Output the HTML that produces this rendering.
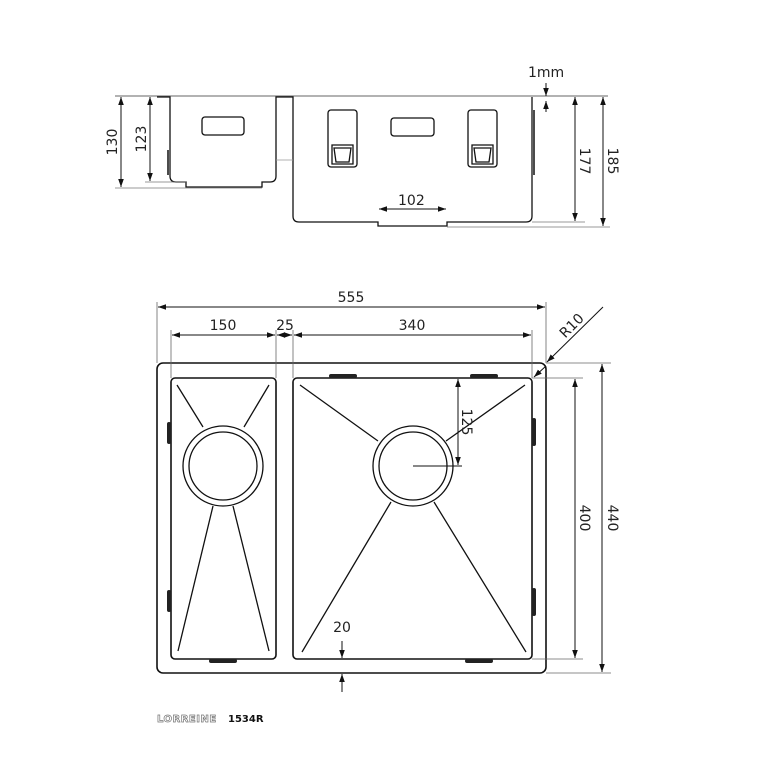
<!DOCTYPE html>
<html><head><style>body{margin:0;background:#fff}svg{display:block}text{font-family:"DejaVu Sans","Liberation Sans",sans-serif;font-size:14px;fill:#222}</style></head><body>
<svg width="763" height="768" viewBox="0 0 763 768" xmlns="http://www.w3.org/2000/svg">
<defs>
<marker id="a" viewBox="0 0 10 10" refX="10" refY="5" markerWidth="8" markerHeight="8" orient="auto-start-reverse" markerUnits="userSpaceOnUse"><path d="M0,1.5L10,5L0,8.5z" fill="#111"/></marker>
</defs>
<g fill="none" stroke="#111" stroke-width="1.3">
<!-- TOP VIEW -->
<line x1="115" y1="96" x2="608" y2="96" stroke="#666" stroke-width="1"/>
<path d="M157,97H170V176Q170,182 176,182H186V187H262V182H270Q276,182 276,176V97H293V216Q293,222 299,222H378V226H447V222H526Q532,222 532,216V97"/>
<line x1="276" y1="160" x2="293" y2="160" stroke="#999" stroke-width="0.8"/>
<line x1="168" y1="150" x2="168" y2="175" stroke-width="1.5"/>
<line x1="534" y1="110" x2="534" y2="175" stroke-width="1.5"/>
<rect x="202" y="117" width="42" height="18" rx="3"/>
<rect x="391" y="118" width="43" height="18" rx="3"/>
<rect x="328" y="110" width="29" height="57" rx="3"/>
<path d="M332,145H353V164H332Z M334,148H351L349,162H336Z"/>
<rect x="468" y="110" width="29" height="57" rx="3"/>
<path d="M472,145H493V164H472Z M474,148H491L489,162H476Z"/>
<g stroke="#777" stroke-width="0.8">
<line x1="115" y1="188" x2="262" y2="188"/><line x1="145" y1="182" x2="186" y2="182"/>
<line x1="532" y1="222" x2="585" y2="222"/><line x1="447" y1="227" x2="610" y2="227"/>
</g>
<g stroke-width="1" marker-start="url(#a)" marker-end="url(#a)">
<line x1="121" y1="97" x2="121" y2="187"/>
<line x1="150" y1="97" x2="150" y2="181"/>
<line x1="575" y1="97" x2="575" y2="221"/>
<line x1="603" y1="97" x2="603" y2="226"/>
<line x1="379" y1="209" x2="446" y2="209"/>
</g>
<line x1="546" y1="83" x2="546" y2="96" stroke-width="1" marker-end="url(#a)"/>
<line x1="546" y1="112" x2="546" y2="101" stroke-width="1" marker-end="url(#a)"/>
<!-- PLAN VIEW -->
<rect x="157" y="363" width="389" height="310" rx="6" stroke-width="1.6"/>
<rect x="171" y="378" width="105" height="281" rx="4" stroke-width="1.6"/>
<rect x="293" y="378" width="239" height="281" rx="4" stroke-width="1.6"/>
<circle cx="223" cy="466" r="40"/><circle cx="223" cy="466" r="34"/>
<circle cx="413" cy="466" r="40"/><circle cx="413" cy="466" r="34"/>
<path d="M177,385L203,427M269,385L244,427M213,506L178,651M233,506L269,651"/>
<path d="M300,385L378,441M525,385L446,441M391,502L302,652M434,502L526,652"/>
<g fill="#222" stroke="none">
<rect x="329" y="374" width="28" height="4" rx="2"/><rect x="470" y="374" width="28" height="4" rx="2"/>
<rect x="209" y="659" width="28" height="4" rx="2"/><rect x="465" y="659" width="28" height="4" rx="2"/>
<rect x="167" y="422" width="4" height="22" rx="2"/><rect x="167" y="590" width="4" height="22" rx="2"/>
<rect x="532" y="418" width="4" height="28" rx="2"/><rect x="532" y="588" width="4" height="28" rx="2"/>
</g>
<g stroke="#666" stroke-width="0.8">
<line x1="157" y1="302" x2="157" y2="363"/><line x1="546" y1="302" x2="546" y2="363"/>
<line x1="171" y1="330" x2="171" y2="378"/><line x1="276" y1="330" x2="276" y2="378"/>
<line x1="293" y1="330" x2="293" y2="378"/><line x1="532" y1="330" x2="532" y2="378"/>
<line x1="546" y1="363" x2="611" y2="363"/><line x1="532" y1="378" x2="583" y2="378"/>
<line x1="532" y1="659" x2="583" y2="659"/><line x1="546" y1="673" x2="611" y2="673"/>
</g>
<g stroke-width="1" marker-start="url(#a)" marker-end="url(#a)">
<line x1="158" y1="307" x2="545" y2="307"/>
<line x1="172" y1="335" x2="275" y2="335"/>
<line x1="277" y1="335" x2="292" y2="335"/>
<line x1="294" y1="335" x2="531" y2="335"/>
<line x1="575" y1="379" x2="575" y2="658"/>
<line x1="602" y1="364" x2="602" y2="672"/>
<line x1="458" y1="379" x2="458" y2="465"/>
</g>
<line x1="413" y1="466" x2="462" y2="466" stroke-width="1"/>
<line x1="603" y1="307" x2="547" y2="362" stroke-width="1" marker-end="url(#a)"/>
<line x1="546" y1="366" x2="534" y2="377" stroke-width="1" marker-end="url(#a)"/>
<line x1="342" y1="641" x2="342" y2="658" stroke-width="1" marker-end="url(#a)"/>
<line x1="342" y1="692" x2="342" y2="674" stroke-width="1" marker-end="url(#a)"/>
</g>
<text x="528" y="77">1mm</text>
<text x="398" y="205">102</text>
<text transform="translate(117,142) rotate(-90)" text-anchor="middle">130</text>
<text transform="translate(146,139) rotate(-90)" text-anchor="middle">123</text>
<text transform="translate(580,161) rotate(90)" text-anchor="middle">177</text>
<text transform="translate(608,161) rotate(90)" text-anchor="middle">185</text>
<text x="351" y="302" text-anchor="middle">555</text>
<text x="223" y="330" text-anchor="middle">150</text>
<text x="285" y="330" text-anchor="middle">25</text>
<text x="412" y="330" text-anchor="middle">340</text>
<text transform="translate(575,329) rotate(-45)" text-anchor="middle">R10</text>
<text transform="translate(462,422) rotate(90)" text-anchor="middle">125</text>
<text transform="translate(580,518) rotate(90)" text-anchor="middle">400</text>
<text transform="translate(608,518) rotate(90)" text-anchor="middle">440</text>
<text x="342" y="632" text-anchor="middle">20</text>
<text x="157" y="722" style="font-size:10px;fill:#fff;stroke:#777;stroke-width:0.7;font-weight:bold;letter-spacing:0.5px">LORREINE</text>
<text x="228" y="722" style="font-size:10px;font-weight:bold;fill:#111">1534R</text>
</svg>
</body></html>
